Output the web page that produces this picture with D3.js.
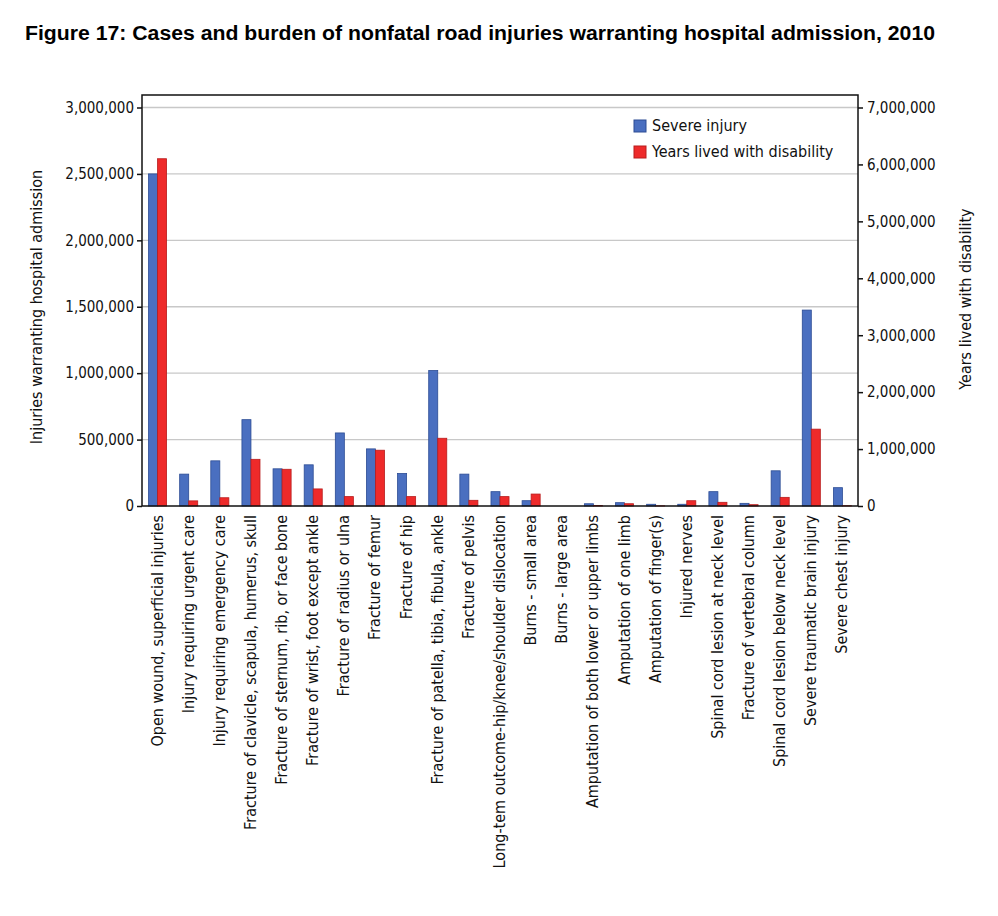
<!DOCTYPE html>
<html>
<head>
<meta charset="utf-8">
<script src="https://cdn.jsdelivr.net/npm/d3@7"></script>
<style>
  body { margin: 0; background: #fff; }
  svg { font-family: "Liberation Sans Narrow", "DejaVu Sans Condensed", "Liberation Sans", sans-serif; }
</style>
</head>
<body>
<svg width="998" height="916"></svg>
<script>
// categories along the bottom
const categories = [
  "Open wound, superficial injuries",
  "Injury requiring urgent care",
  "Injury requiring emergency care",
  "Fracture of clavicle, scapula, humerus, skull",
  "Fracture of sternum, rib, or face bone",
  "Fracture of wrist, foot except ankle",
  "Fracture of radius or ulna",
  "Fracture of femur",
  "Fracture of hip",
  "Fracture of patella, tibia, fibula, ankle",
  "Fracture of pelvis",
  "Long-tem outcome-hip/knee/shoulder dislocation",
  "Burns - small area",
  "Burns - large area",
  "Amputation of both lower or upper limbs",
  "Amputation of one limb",
  "Amputation of finger(s)",
  "Injured nerves",
  "Spinal cord lesion at neck level",
  "Fracture of vertebral column",
  "Spinal cord lesion below neck level",
  "Severe traumatic brain injury",
  "Severe chest injury"
];

// left axis series
const severeInjury = [2500000, 240000, 340000, 650000, 280000, 310000, 550000, 430000, 245000, 1020000,
  240000, 108000, 40000, 0, 17000, 25000, 13000, 13000, 108000, 20000, 265000, 1475000, 138000];

// right axis series
const yld = [6100000, 90000, 145000, 820000, 645000, 300000, 165000, 980000, 165000, 1190000,
  100000, 165000, 210000, 0, 8000, 40000, 3000, 93000, 65000, 23000, 152000, 1350000, 5000];

const leftTicks = [0, 500000, 1000000, 1500000, 2000000, 2500000, 3000000];
const rightTicks = [0, 1000000, 2000000, 3000000, 4000000, 5000000, 6000000, 7000000];

const seriesNames = ["Severe injury", "Years lived with disability"];
const seriesColors = ["#4a6fc0", "#ee2a2a"];
const seriesStroke = ["#2c4c94", "#b81c1c"];

const svg = d3.select("svg");
const plotL = 142, plotR = 858, plotT = 95, plotB = 506;

svg.append("text")
  .attr("x", 25).attr("y", 40)
  .attr("font-family", "Liberation Sans, Arial, sans-serif")
  .attr("font-weight", "bold")
  .attr("font-size", 20)
  .attr("textLength", 910)
  .attr("lengthAdjust", "spacingAndGlyphs")
  .text("Figure 17: Cases and burden of nonfatal road injuries warranting hospital admission, 2010");

const x = d3.scaleBand().domain(categories).range([plotL, plotR]).paddingInner(0.42).paddingOuter(0.21);
const xs = d3.scaleBand().domain([0, 1]).range([0, x.bandwidth()]);
const yL = d3.scaleLinear().domain([0, 3000000]).range([plotB, 107.5]);
const yR = d3.scaleLinear().domain([0, 7000000]).range([plotB, 107.5]);

// gridlines
svg.append("g")
  .selectAll("line")
  .data(leftTicks.slice(1))
  .enter()
  .append("line")
  .attr("x1", plotL).attr("x2", plotR)
  .attr("y1", d => yL(d)).attr("y2", d => yL(d))
  .attr("stroke", "#c8c8c8")
  .attr("stroke-width", 1.3);

const rows = categories.map((c, i) => ({ cat: c, vals: [severeInjury[i], yld[i]] }));

const groups = svg.append("g")
  .selectAll("g")
  .data(rows)
  .enter()
  .append("g")
  .attr("transform", d => `translate(${x(d.cat)},0)`);

groups.selectAll("rect")
  .data(d => d.vals.map((v, k) => ({ v, k })))
  .enter()
  .append("rect")
  .attr("x", d => xs(d.k))
  .attr("width", xs.bandwidth())
  .attr("y", d => (d.k == 0 ? yL(d.v) : yR(d.v)))
  .attr("height", d => plotB - (d.k == 0 ? yL(d.v) : yR(d.v)))
  .attr("fill", d => seriesColors[d.k])
  .attr("stroke", d => d.v > 0 ? seriesStroke[d.k] : "none")
  .attr("stroke-width", 0.8);

// frame
svg.append("rect")
  .attr("x", plotL).attr("y", plotT)
  .attr("width", plotR - plotL).attr("height", plotB - plotT)
  .attr("fill", "none").attr("stroke", "#111").attr("stroke-width", 1.5);

const fmt = d3.format(",");

const axL = svg.append("g")
  .attr("transform", `translate(${plotL},0)`)
  .call(d3.axisLeft(yL).tickValues(leftTicks).tickFormat(fmt).tickSize(5).tickPadding(3));
const axR = svg.append("g")
  .attr("transform", `translate(${plotR},0)`)
  .call(d3.axisRight(yR).tickValues(rightTicks).tickFormat(fmt).tickSize(5).tickPadding(4));
[axL, axR].forEach(a => {
  a.select(".domain").remove();
  a.selectAll("line").attr("stroke", "#111").attr("stroke-width", 1.5);
  a.selectAll("text").attr("font-size", 15).attr("fill", "#111")
    .attr("font-family", "Liberation Sans Narrow, DejaVu Sans Condensed, sans-serif");
});

// category labels
svg.append("g")
  .selectAll("text")
  .data(categories)
  .enter()
  .append("text")
  .attr("transform", d => `translate(${x(d) + x.bandwidth() / 2 + 5},515) rotate(-90)`)
  .attr("text-anchor", "end")
  .attr("font-size", 16)
  .attr("fill", "#111")
  .text(d => d);

svg.append("text")
  .attr("transform", "translate(42,307) rotate(-90)")
  .attr("text-anchor", "middle")
  .attr("font-size", 16)
  .attr("fill", "#111")
  .text("Injuries warranting hospital admission");

svg.append("text")
  .attr("transform", "translate(971,299) rotate(-90)")
  .attr("text-anchor", "middle")
  .attr("font-size", 16)
  .attr("fill", "#111")
  .text("Years lived with disability");

// legend
const legend = svg.append("g")
  .selectAll("g")
  .data(seriesNames)
  .enter()
  .append("g")
  .attr("transform", (d, i) => `translate(634,${120 + i * 26})`);
legend.append("rect")
  .attr("width", 12).attr("height", 12)
  .attr("fill", (d, i) => seriesColors[i])
  .attr("stroke", (d, i) => seriesStroke[i]);
legend.append("text")
  .attr("x", 18).attr("y", 11)
  .attr("font-size", 16)
  .attr("fill", "#111")
  .text(d => d);
</script>
</body>
</html>
